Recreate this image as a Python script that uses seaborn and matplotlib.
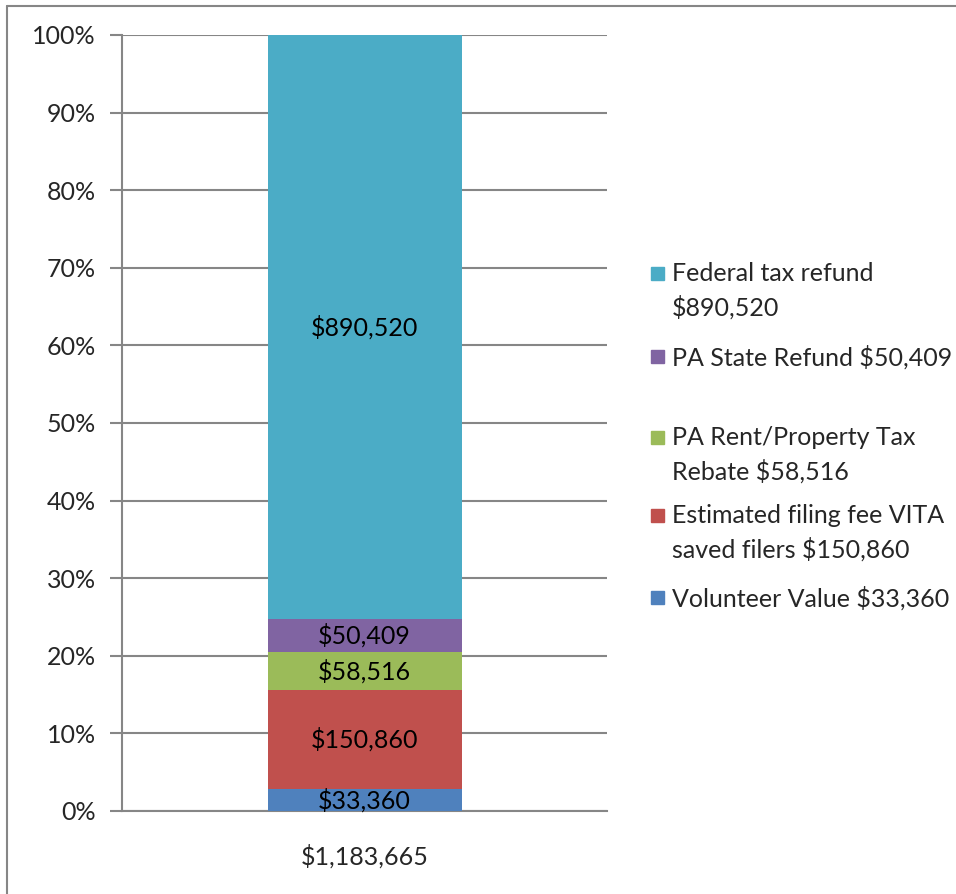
import matplotlib
matplotlib.use("Agg")
import matplotlib.pyplot as plt
import seaborn as sns
import numpy as np
from matplotlib.patches import Rectangle
from matplotlib.lines import Line2D

sns.set_style("white")
plt.rcParams['font.family'] = ['Lato', 'DejaVu Sans']

# данные
components = ['Volunteer Value', 'Estimated filing fee VITA saved filers',
              'PA Rent/Property Tax Rebate', 'PA State Refund', 'Federal tax refund']
amounts = [33360, 150860, 58516, 50409, 890520]
legend_labels = ['Volunteer Value $33,360', 'Estimated filing fee VITA\nsaved filers $150,860',
                 'PA Rent/Property Tax\nRebate $58,516', 'PA State Refund $50,409',
                 'Federal tax refund\n$890,520']
colors = ['#4F81BD', '#C0504D', '#9BBB59', '#8064A2', '#4BACC6']
category = '$1,183,665'

total = sum(amounts)
pct = np.array(amounts) / total * 100
cum = np.cumsum(pct)

FS = 18

fig = plt.figure(figsize=(9.56, 8.94), dpi=100)
ax = fig.add_axes([122 / 956, 83 / 894, (607 - 122) / 956, (811 - 35) / 894])

# накладываем кумулятивные столбцы сверху вниз
for i in reversed(range(len(amounts))):
    sns.barplot(x=[category], y=[cum[i]], color=colors[i], width=0.4,
                saturation=1, linewidth=0, edgecolor='none', ax=ax, zorder=3)

# подписи сегментов
bottoms = cum - pct
for i, a in enumerate(amounts):
    ax.text(0, bottoms[i] + pct[i] / 2, f"${a:,}", ha='center', va='center',
            fontsize=FS, color='black', zorder=4)

ax.set_xlim(-0.5, 0.5)
ax.set_ylim(0, 100)
ax.set_yticks(range(0, 101, 10))
ax.set_yticklabels([f"{v}%" for v in range(0, 101, 10)], fontsize=FS)
ax.set_xticks([0])
ax.set_xticklabels([category], fontsize=FS)
ax.set_xticks([-0.5, 0.5], minor=True)
ax.tick_params(axis='x', which='major', length=0, pad=24)
ax.tick_params(axis='x', which='minor', length=8, width=1.5, color='#868686', direction='out')
ax.tick_params(axis='y', length=9, width=1.5, color='#868686', direction='out', pad=10, left=True)
ax.grid(axis='y', color='#868686', linewidth=1.5, zorder=0)
ax.set_axisbelow(True)
ax.set_xlabel('')
ax.set_ylabel('')
for s in ['top', 'right']:
    ax.spines[s].set_visible(False)
for s in ['left', 'bottom']:
    ax.spines[s].set_color('#868686')
    ax.spines[s].set_linewidth(1.5)

# легенда вручную (как в Excel)
legend_y = [273, 356, 437, 515, 597]
for k, i in enumerate(reversed(range(len(amounts)))):
    y = legend_y[k]
    fig.add_artist(Rectangle((651 / 956, 1 - (y + 7) / 894), 13 / 956, 13 / 894,
                             transform=fig.transFigure, color=colors[i]))
    fig.text(672 / 956, 1 - (y - 11) / 894, legend_labels[i], fontsize=FS,
             va='top', ha='left', linespacing=1.5)

# рамка диаграммы
fig.add_artist(Line2D([7 / 956, 7 / 956], [0, 1 - 6 / 894], transform=fig.transFigure,
                      color='#868686', linewidth=1.5))
fig.add_artist(Line2D([7 / 956, 1], [1 - 6 / 894, 1 - 6 / 894], transform=fig.transFigure,
                      color='#868686', linewidth=1.5))

fig.savefig('out.png', dpi=100)
